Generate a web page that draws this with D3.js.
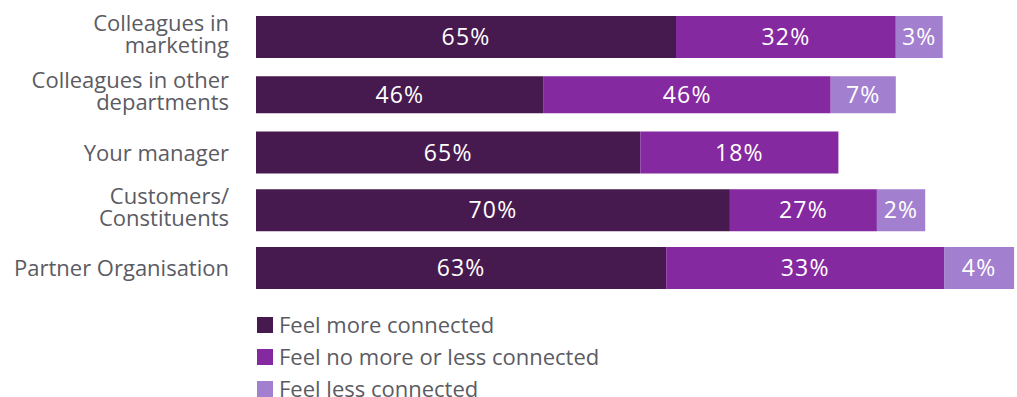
<!DOCTYPE html>
<html>
<head>
<meta charset="utf-8">
<script src="https://cdn.jsdelivr.net/npm/d3@7"></script>
<style>
  html, body { margin: 0; padding: 0; background: #ffffff; }
  svg { display: block; }
</style>
</head>
<body>
<div id="chart"></div>
<script>
// ---- data ----
const categories = [
  ["Colleagues in", "marketing"],
  ["Colleagues in other", "departments"],
  ["Your manager"],
  ["Customers/", "Constituents"],
  ["Partner Organisation"]
];
const seriesNames = ["Feel more connected", "Feel no more or less connected", "Feel less connected"];
// segment lengths as drawn in the picture (scale units)
const moreConnected    = [60.0, 41.1, 54.9, 67.7, 58.6];
const neutralConnected = [31.4, 41.0, 28.3, 21.0, 39.7];
const lessConnected    = [ 6.7,  9.3,  0.0,  6.9, 10.0];
// labels printed on the segments
const moreLabels    = ["65%", "46%", "65%", "70%", "63%"];
const neutralLabels = ["32%", "46%", "18%", "27%", "33%"];
const lessLabels    = ["3%",  "7%",  "",    "2%",  "4%"];
const colors = ["#471a4f", "#8529a0", "#a37fcf"];

// ---- chart ----
const W = 1017, H = 397;
const svg = d3.select("#chart").append("svg").attr("width", W).attr("height", H);
const FONT = "'Open Sans', sans-serif";
const TEXT = "#5b5b63";

const x = d3.scaleLinear().domain([0, 100]).range([256, 956]);
const y = d3.scaleBand().domain(d3.range(categories.length)).range([16, 289]).paddingInner(0.2727).paddingOuter(0);

const series = [moreConnected, neutralConnected, lessConnected];
const labels = [moreLabels, neutralLabels, lessLabels];

const rows = categories.map((c, i) => {
  let acc = 0;
  return series.map((s, k) => {
    const seg = { row: i, k, x0: acc, x1: acc + s[i], label: labels[k][i] };
    acc += s[i];
    return seg;
  });
});

const g = svg.append("g");
rows.forEach((segs, i) => {
  // row 2 bar is slightly thinner in the reference
  const inset = i === 1 ? 2.5 : 0;
  const gr = g.append("g");
  gr.selectAll("rect").data(segs.filter(d => d.x1 > d.x0)).join("rect")
    .attr("x", d => x(d.x0))
    .attr("width", d => x(d.x1) - x(d.x0))
    .attr("y", y(i) + inset)
    .attr("height", y.bandwidth() - inset * 2)
    .attr("fill", d => colors[d.k]);
  gr.selectAll("text").data(segs.filter(d => d.label)).join("text")
    .attr("x", d => (x(d.x0) + x(d.x1)) / 2)
    .attr("y", y(i) + y.bandwidth() / 2 + 8)
    .attr("text-anchor", "middle")
    .attr("fill", "#ffffff")
    .attr("font-family", FONT)
    .attr("font-size", 23)
    .attr("letter-spacing", 1.2)
    .text(d => d.label);
});

// category labels
const cat = svg.append("g");
categories.forEach((lines, i) => {
  const cy = y(i) + y.bandwidth() / 2;
  const base = lines.length === 1 ? cy + 8 : cy - 6.5;
  lines.forEach((ln, j) => {
    cat.append("text")
      .attr("x", 229).attr("y", base + j * 22)
      .attr("text-anchor", "end")
      .attr("fill", TEXT)
      .attr("font-family", FONT)
      .attr("font-size", 22)
      .text(ln);
  });
});

// legend
const leg = svg.append("g");
seriesNames.forEach((n, k) => {
  const ly = 317 + k * 32;
  leg.append("rect").attr("x", 257).attr("y", ly).attr("width", 16).attr("height", 16).attr("fill", colors[k]);
  leg.append("text").attr("x", 279).attr("y", ly + 15.5)
    .attr("fill", TEXT)
    .attr("font-family", FONT)
    .attr("font-size", 22)
    .text(n);
});
</script>
</body>
</html>
